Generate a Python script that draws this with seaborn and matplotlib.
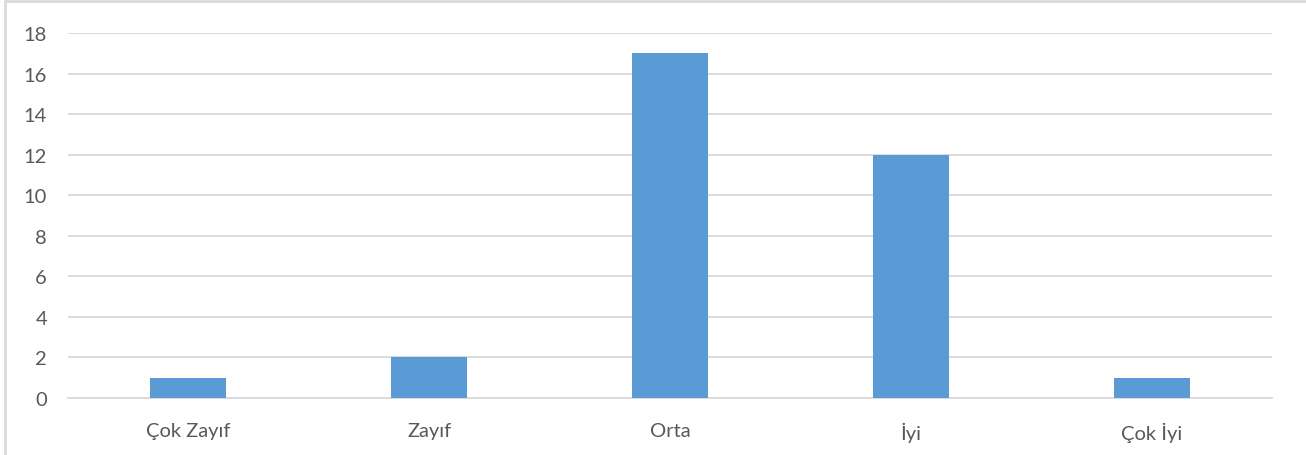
import matplotlib
matplotlib.use("Agg")
import matplotlib.pyplot as plt
import matplotlib.lines as mlines
import seaborn as sns
import pandas as pd

# ---- Data ----
categories = ["Çok Zayıf", "Zayıf", "Orta", "İyi", "Çok İyi"]
counts = [1, 2, 17, 12, 1]
y_ticks = [0, 2, 4, 6, 8, 10, 12, 14, 16, 18]

BAR_COLOR = "#5B9BD5"
GRID_COLOR = "#D9D9D9"
TEXT_COLOR = "#595959"

sns.set_theme(style="white")
plt.rcParams["font.family"] = ["Lato", "DejaVu Sans"]

df = pd.DataFrame({"category": categories, "count": counts})

fig = plt.figure(figsize=(13.06, 4.56), dpi=100)
ax = fig.add_axes([0.052, 0.125, 0.922, 0.8005])

sns.barplot(data=df, x="category", y="count", color=BAR_COLOR,
            width=0.315, saturation=1, linewidth=0, ax=ax, zorder=3)

ax.set_ylim(0, 18)
ax.set_xlim(-0.5, len(categories) - 0.5)
ax.set_yticks(y_ticks)
ax.yaxis.grid(True, color=GRID_COLOR, lw=1.3, zorder=0)
ax.set_axisbelow(True)
ax.set_xlabel("")
ax.set_ylabel("")
for s in ["top", "right", "left"]:
    ax.spines[s].set_visible(False)
ax.spines["bottom"].set_color(GRID_COLOR)
ax.spines["bottom"].set_linewidth(1.3)
ax.tick_params(axis="y", length=0, pad=15, labelsize=14.5, labelcolor=TEXT_COLOR)
ax.tick_params(axis="x", length=0, pad=17, labelsize=14.5, labelcolor=TEXT_COLOR)

# chart border (left and top edges visible)
fig.add_artist(mlines.Line2D([0.004, 0.004], [0, 0.995], color=GRID_COLOR, lw=2,
                             transform=fig.transFigure))
fig.add_artist(mlines.Line2D([0.004, 1.0], [0.995, 0.995], color=GRID_COLOR, lw=2,
                             transform=fig.transFigure))

fig.savefig("out.png", dpi=100)
